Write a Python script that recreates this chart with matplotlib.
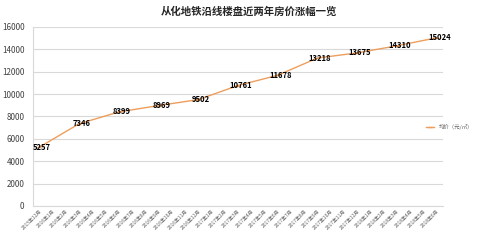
import matplotlib as mpl
mpl.use('Agg')
import matplotlib.pyplot as plt
import numpy as np

plt.rcParams['font.family'] = ['Noto Sans CJK SC', 'DejaVu Sans']

# months on the category axis
months = ['2015年12月'] + ['2016年%d月' % m for m in range(1, 13)] + \
         ['2017年%d月' % m for m in range(1, 13)] + ['2018年%d月' % m for m in range(1, 7)]
# prices are quoted every third month
price_months = ['2015年12月', '2016年3月', '2016年6月', '2016年9月', '2016年12月',
                '2017年3月', '2017年6月', '2017年9月', '2017年12月', '2018年3月', '2018年6月']
prices = [5257, 7346, 8399, 8969, 9502, 10761, 11678, 13218, 13675, 14310, 15024]
y_ticks = [0, 2000, 4000, 6000, 8000, 10000, 12000, 14000, 16000]

line_color = '#EE9E5C'
grid_color = '#D9D9D9'

fig = plt.figure(figsize=(4.98, 2.4), dpi=100)
ax = fig.add_axes([0.066, 0.142, 0.824, 0.746])

xpos = [months.index(m) for m in price_months]
ax.plot(xpos, prices, color=line_color, linewidth=1.0, marker='_', markersize=3,
        label='均价（元/㎡）')
for x, v in zip(xpos, prices):
    ax.text(x + 0.2, v, str(v), ha='center', va='center', fontsize=5.5,
            fontweight='bold', color='black')

ax.set_xlim(-0.5, len(months) - 0.5)
ax.set_ylim(0, 16000)
ax.set_yticks(y_ticks)
ax.set_yticklabels([str(t) for t in y_ticks], fontsize=5.8, color='#404040')
ax.set_xticks(range(len(months)))
ax.set_xticklabels(months, rotation=45, ha='right', rotation_mode='anchor',
                   fontsize=3.5, color='#606060')
ax.tick_params(axis='both', length=0, pad=2)
ax.tick_params(axis='y', pad=6)
ax.yaxis.grid(True, color=grid_color, linewidth=0.8)
ax.set_axisbelow(True)
for s in ['top', 'right']:
    ax.spines[s].set_visible(False)
ax.spines['left'].set_color(grid_color)
ax.spines['bottom'].set_color(grid_color)
ax.spines['left'].set_linewidth(0.8)
ax.spines['bottom'].set_linewidth(0.8)

fig.text(0.5, 0.95, '从化地铁沿线楼盘近两年房价涨幅一览', ha='center', va='center',
         fontsize=7.5, fontweight='bold', color='#262626')

fig.legend(loc='center left', bbox_to_anchor=(0.845, 0.47), frameon=False,
           fontsize=3.9, handlelength=1.6, labelcolor='#606060')

fig.savefig('out.png', dpi=100)
